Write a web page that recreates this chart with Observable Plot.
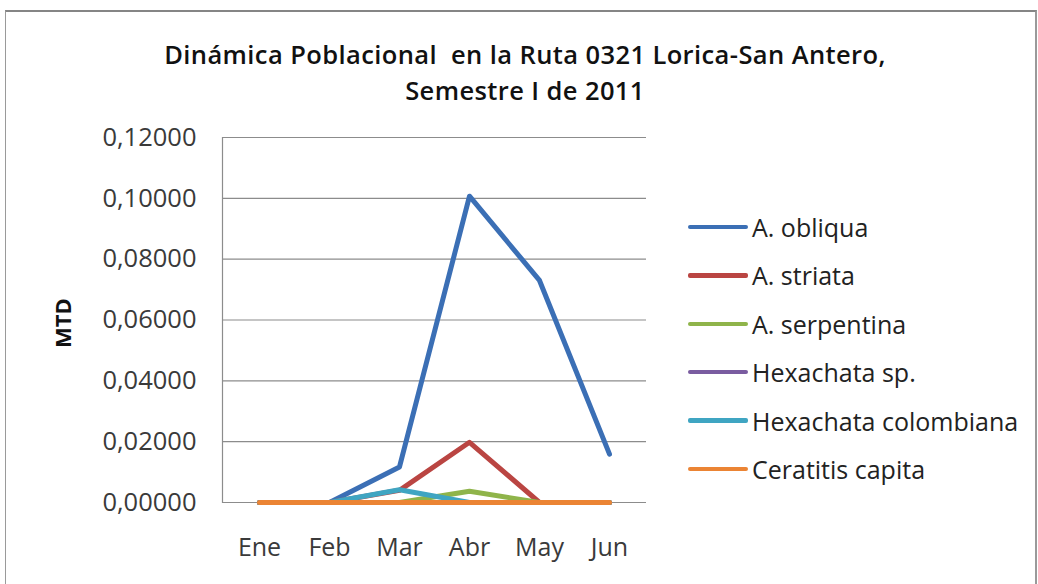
<!DOCTYPE html>
<html><head><meta charset="utf-8">
<script src="https://cdn.jsdelivr.net/npm/d3@7"></script>
<script src="https://cdn.jsdelivr.net/npm/@observablehq/plot@0.6"></script>
<style>
html,body{margin:0;padding:0;background:#fff;}
#wrap{position:relative;width:1038px;height:584px;overflow:hidden;background:#fff;font-family:"Open Sans",sans-serif;}
#border{position:absolute;left:5px;top:10px;width:1029px;height:600px;border-top:2px solid #858585;border-left:1px solid #9a9a9a;border-right:2px solid #9a9a9a;pointer-events:none;}
#title{position:absolute;left:0;top:36px;width:1050px;text-align:center;font-weight:600;font-size:25.5px;letter-spacing:0.4px;line-height:36px;color:#111;}
#chart{position:absolute;left:0;top:0;}
#mtd{position:absolute;left:62px;top:323px;transform:translate(-50%,-50%) rotate(-90deg);font-weight:700;font-size:22px;color:#111;white-space:nowrap;}
.leg{position:absolute;left:688px;height:30px;display:flex;align-items:center;font-size:25px;color:#222;white-space:nowrap;}
.leg span.sw{display:inline-block;width:60px;height:4.5px;border-radius:2px;margin-right:4px;}
</style></head>
<body>
<div id="wrap">
  <div id="chart"></div>
  <div id="border"></div>
  <div id="title">Dinámica Poblacional&nbsp; en la Ruta 0321 Lorica-San Antero,<br>Semestre I de 2011</div>
  <div id="mtd">MTD</div>
  <div id="legend"></div>
</div>
<script>
const months = ["Ene","Feb","Mar","Abr","May","Jun"];
const seriesNames = ["A. obliqua","A. striata","A. serpentina","Hexachata sp.","Hexachata colombiana","Ceratitis capita"];
const seriesColors = ["#3B6FB5","#BA4542","#8FB44A","#7A5CA0","#3FA5C2","#EB8434"];
const aObliqua     = [0, 0, 0.0117, 0.1007, 0.0730, 0.0159];
const aStriata     = [0, 0, 0.0040, 0.0198, 0, 0];
const aSerpentina  = [0, 0, 0, 0.0037, 0, 0];
const hexachataSp  = [0, 0, 0, 0, 0, 0];
const hexColomb    = [0, 0, 0.0042, 0, 0, 0];
const ceratitis    = [0, 0, 0, 0, 0, 0];
const yTicks = [0, 0.02, 0.04, 0.06, 0.08, 0.10, 0.12];

const allSeries = [aObliqua, aStriata, aSerpentina, hexachataSp, hexColomb, ceratitis];
const data = [];
allSeries.forEach((vals, si) => vals.forEach((v, mi) => data.push({series: seriesNames[si], month: months[mi], value: v})));

const fmt = d => d.toFixed(5).replace(".", ",");

const chart = Plot.plot({
  width: 1038, height: 584,
  marginLeft: 222, marginRight: 392, marginTop: 137, marginBottom: 82,
  style: {background: "none", fontFamily: "'Open Sans', sans-serif", color: "#333"},
  x: {type: "point", domain: months, padding: 0.5, label: null},
  y: {domain: [0, 0.12], label: null},
  color: {domain: seriesNames, range: seriesColors},
  marks: [
    Plot.ruleY(yTicks, {stroke: "#8c8c8c", strokeWidth: 1.2}),
    Plot.frame({anchor: "left", stroke: "#8c8c8c", strokeWidth: 1.2}),
    Plot.axisY(yTicks, {tickSize: 0, tickPadding: 26, tickFormat: fmt, fontSize: 25.5, fill: "#3a3a3a", label: null}),
    Plot.axisX({tickSize: 0, tickPadding: 36, fontSize: 25, fill: "#3a3a3a", label: null}),
    Plot.line(data, {x: "month", y: "value", z: "series", stroke: "series", strokeWidth: 5, strokeLinejoin: "round", strokeLinecap: "round"})
  ]
});
document.getElementById("chart").appendChild(chart);

const legend = document.getElementById("legend");
seriesNames.forEach((n, i) => {
  const d = document.createElement("div");
  d.className = "leg";
  d.style.top = (212 + i * 48.4) + "px";
  d.innerHTML = `<span class="sw" style="background:${seriesColors[i]}"></span>${n}`;
  legend.appendChild(d);
});
</script>
</body></html>
